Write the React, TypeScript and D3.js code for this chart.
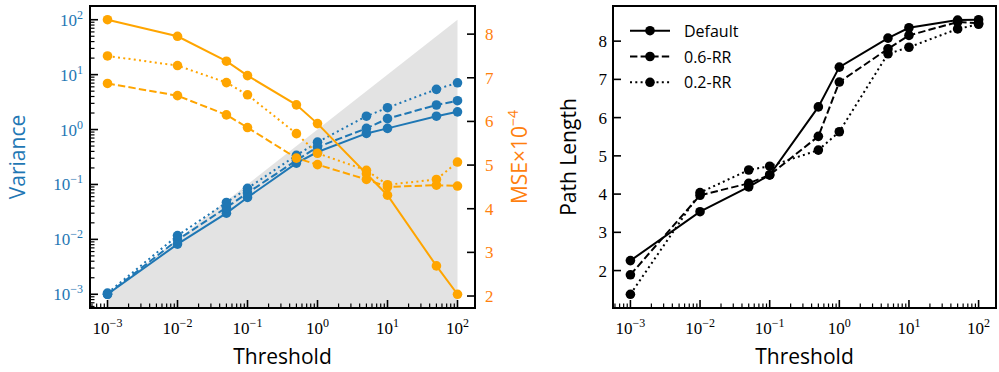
import React, { useEffect } from 'react';
import * as d3 from 'd3';

// thresholds shared by both panels
const thresholds = [1e-3, 1e-2, 5e-2, 1e-1, 5e-1, 1, 5, 10, 50, 100];

// left panel: variance (log axis)
const varDefault = [0.001, 0.0082, 0.030, 0.058, 0.245, 0.39, 0.85, 1.05, 1.75, 2.1];
const varRR06 = [0.001, 0.0098, 0.038, 0.070, 0.275, 0.48, 1.05, 1.58, 2.8, 3.35];
const varRR02 = [0.00105, 0.0117, 0.047, 0.085, 0.34, 0.59, 1.75, 2.5, 5.4, 7.1];

// left panel: MSE x 1e-4 (twin axis)
const mseDefault = [8.33, 7.95, 7.38, 7.05, 6.38, 5.95, 4.80, 4.31, 2.69, 2.04];
const mseRR06 = [6.87, 6.59, 6.15, 5.86, 5.16, 5.01, 4.67, 4.50, 4.54, 4.52];
const mseRR02 = [7.50, 7.28, 6.89, 6.61, 5.72, 5.27, 4.88, 4.55, 4.67, 5.07];

// right panel: path length
const pathDefault = [2.26, 3.54, 4.19, 4.50, 6.28, 7.32, 8.08, 8.35, 8.55, 8.56];
const pathRR06 = [1.89, 3.97, 4.28, 4.50, 5.51, 6.93, 7.80, 8.15, 8.50, 8.47];
const pathRR02 = [1.38, 4.04, 4.63, 4.73, 5.15, 5.63, 7.67, 7.84, 8.32, 8.44];

const seriesNames = ['Default', '0.6-RR', '0.2-RR'];
const mseTicks = [2, 3, 4, 5, 6, 7, 8];
const pathTicks = [2, 3, 4, 5, 6, 7, 8];

const BLUE = '#1f77b4';
const ORANGE = '#ffa500';
const ORANGE_TEXT = '#ff7f0e';
const DASHES = ['none', '7.4,3.2', '2,3.3'];
const TICK_FONT = '"Liberation Serif", serif';
const LABEL_FONT = '"Open Sans", sans-serif';

const L = { left: 90, right: 475, top: 6, bottom: 308 };
const R = { left: 613, right: 996, top: 6, bottom: 308 };

// matplotlib-like 5% margins
const logPad = (lo: number, hi: number) => {
  const a = Math.log10(lo), b = Math.log10(hi), m = (b - a) * 0.05;
  return [10 ** (a - m), 10 ** (b + m)];
};
const linPad = (lo: number, hi: number) => {
  const m = (hi - lo) * 0.05;
  return [lo - m, hi + m];
};

const supMinus = (e: number) => (e < 0 ? '\u2212' + Math.abs(e) : String(e));

function PowLabel({ x, y, exp, anchor = 'middle', fill = '#000' }: any) {
  return (
    <text x={x} y={y} textAnchor={anchor} fontFamily={TICK_FONT} fontSize={17} fill={fill}>
      10<tspan fontSize={12} dy={-7}>{supMinus(exp)}</tspan>
    </text>
  );
}

function LogXAxis({ scale, box }: any) {
  const ticks = scale.ticks();
  return (
    <g>
      {ticks.map((t: number, i: number) => {
        const e = Math.log10(t);
        const major = Math.abs(e - Math.round(e)) < 1e-9;
        const x = scale(t);
        return (
          <g key={i}>
            <line x1={x} x2={x} y1={box.bottom} y2={box.bottom - (major ? 8 : 4.5)} stroke="#000" strokeWidth={major ? 1.6 : 1.2} />
            {major && <PowLabel x={x} y={box.bottom + 26} exp={Math.round(e)} />}
          </g>
        );
      })}
    </g>
  );
}

export default function App() {
  useEffect(() => {
    document.body.style.margin = '0';
  }, []);

  const xL = d3.scaleLog().domain(logPad(thresholds[0], thresholds[thresholds.length - 1])).range([L.left, L.right]);
  const xR = d3.scaleLog().domain(logPad(thresholds[0], thresholds[thresholds.length - 1])).range([R.left, R.right]);

  // variance axis spans the shaded y = x region
  const yVar = d3.scaleLog().domain(logPad(thresholds[0], thresholds[thresholds.length - 1])).range([L.bottom, L.top]);
  const allMse = [...mseDefault, ...mseRR06, ...mseRR02];
  const yMse = d3.scaleLinear().domain(linPad(d3.min(allMse)!, d3.max(allMse)!)).range([L.bottom, L.top]);
  const allPath = [...pathDefault, ...pathRR06, ...pathRR02];
  const yPath = d3.scaleLinear().domain(linPad(d3.min(allPath)!, d3.max(allPath)!)).range([R.bottom, R.top]);

  const varSeries = [varDefault, varRR06, varRR02];
  const mseSeries = [mseDefault, mseRR06, mseRR02];
  const pathSeries = [pathDefault, pathRR06, pathRR02];

  const lineVar = d3.line<number>().x((_, i) => xL(thresholds[i])).y(d => yVar(d));
  const lineMse = d3.line<number>().x((_, i) => xL(thresholds[i])).y(d => yMse(d));
  const linePath = d3.line<number>().x((_, i) => xR(thresholds[i])).y(d => yPath(d));

  const fillEnds = [thresholds[0], thresholds[thresholds.length - 1]];
  const fillArea = d3.area<number>().x(d => xL(d)).y0(L.bottom).y1(d => yVar(d));

  const yVarTicks = yVar.ticks();

  return (
    <svg width={999} height={372} style={{ display: 'block', background: '#fff' }}>
      <defs>
        <clipPath id="clipL"><rect x={L.left} y={L.top} width={L.right - L.left} height={L.bottom - L.top} /></clipPath>
        <clipPath id="clipR"><rect x={R.left} y={R.top} width={R.right - R.left} height={R.bottom - R.top} /></clipPath>
      </defs>

      {/* ---------- left panel ---------- */}
      <g clipPath="url(#clipL)">
        <path d={fillArea(fillEnds)!} fill="#e3e3e3" />
        {varSeries.map((s, k) => (
          <g key={'v' + k}>
            <path d={lineVar(s)!} fill="none" stroke={BLUE} strokeWidth={2} strokeDasharray={DASHES[k]} />
            {s.map((d, i) => <circle key={i} cx={xL(thresholds[i])} cy={yVar(d)} r={4.8} fill={BLUE} />)}
          </g>
        ))}
        {mseSeries.map((s, k) => (
          <g key={'m' + k}>
            <path d={lineMse(s)!} fill="none" stroke={ORANGE} strokeWidth={2} strokeDasharray={DASHES[k]} />
            {s.map((d, i) => <circle key={i} cx={xL(thresholds[i])} cy={yMse(d)} r={4.8} fill={ORANGE} />)}
          </g>
        ))}
      </g>

      <LogXAxis scale={xL} box={L} />

      {/* variance ticks */}
      {yVarTicks.map((t, i) => {
        const e = Math.log10(t);
        const major = Math.abs(e - Math.round(e)) < 1e-9;
        const y = yVar(t);
        return (
          <g key={'yv' + i}>
            <line x1={L.left} x2={L.left + (major ? 8 : 4.5)} y1={y} y2={y} stroke="#000" strokeWidth={major ? 1.6 : 1.2} />
            {major && <PowLabel x={L.left - 7} y={y + 6} exp={Math.round(e)} anchor="end" fill={BLUE} />}
          </g>
        );
      })}

      {/* MSE ticks */}
      {mseTicks.map(t => (
        <g key={'ym' + t}>
          <line x1={L.right} x2={L.right - 8} y1={yMse(t)} y2={yMse(t)} stroke="#000" strokeWidth={1.6} />
          <text x={L.right + 10} y={yMse(t) + 6} fontFamily={TICK_FONT} fontSize={17} fill={ORANGE_TEXT}>{t}</text>
        </g>
      ))}

      <rect x={L.left} y={L.top} width={L.right - L.left} height={L.bottom - L.top} fill="none" stroke="#000" strokeWidth={2} />

      <text x={(L.left + L.right) / 2} y={364} textAnchor="middle" fontFamily={LABEL_FONT} fontSize={21}>Threshold</text>
      <text transform={`translate(25,${(L.top + L.bottom) / 2}) rotate(-90)`} textAnchor="middle" fontFamily={LABEL_FONT} fontSize={21} fill={BLUE}>Variance</text>
      <text transform={`translate(527,${(L.top + L.bottom) / 2}) rotate(-90)`} textAnchor="middle" fontFamily={LABEL_FONT} fontSize={21} fill={ORANGE_TEXT}>
        MSE×10<tspan fontSize={14} dy={-9}>{'\u22124'}</tspan>
      </text>

      {/* ---------- right panel ---------- */}
      <g clipPath="url(#clipR)">
        {pathSeries.map((s, k) => (
          <g key={'p' + k}>
            <path d={linePath(s)!} fill="none" stroke="#000" strokeWidth={2} strokeDasharray={DASHES[k]} />
            {s.map((d, i) => <circle key={i} cx={xR(thresholds[i])} cy={yPath(d)} r={4.8} fill="#000" />)}
          </g>
        ))}
      </g>

      <LogXAxis scale={xR} box={R} />

      {pathTicks.map(t => (
        <g key={'yp' + t}>
          <line x1={R.left} x2={R.left + 8} y1={yPath(t)} y2={yPath(t)} stroke="#000" strokeWidth={1.6} />
          <text x={R.left - 6} y={yPath(t) + 6} textAnchor="end" fontFamily={TICK_FONT} fontSize={17}>{t}</text>
        </g>
      ))}

      <rect x={R.left} y={R.top} width={R.right - R.left} height={R.bottom - R.top} fill="none" stroke="#000" strokeWidth={2} />

      {/* legend */}
      {seriesNames.map((name, k) => {
        const y = 30.7 + k * 25.8;
        return (
          <g key={'lg' + k}>
            <line x1={630} x2={670} y1={y} y2={y} stroke="#000" strokeWidth={2} strokeDasharray={DASHES[k]} />
            <circle cx={650} cy={y} r={4.8} fill="#000" />
            <text x={684} y={y + 6} fontFamily={LABEL_FONT} fontSize={16}>{name}</text>
          </g>
        );
      })}

      <text x={(R.left + R.right) / 2} y={364} textAnchor="middle" fontFamily={LABEL_FONT} fontSize={21}>Threshold</text>
      <text transform={`translate(576,${(R.top + R.bottom) / 2}) rotate(-90)`} textAnchor="middle" fontFamily={LABEL_FONT} fontSize={21}>Path Length</text>
    </svg>
  );
}
